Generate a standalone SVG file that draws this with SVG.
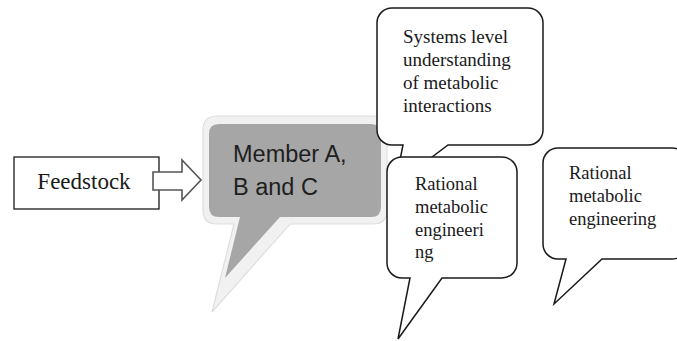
<svg xmlns="http://www.w3.org/2000/svg" width="677" height="341" viewBox="0 0 677 341">
<style>
.serif{font-family:"Liberation Serif","Times New Roman",serif;fill:#1a1a1a}
.sans{font-family:"Liberation Sans",Arial,sans-serif;fill:#1e1e1e}
.callout{fill:#ffffff;stroke:#1a1a1a;stroke-width:1.5;stroke-linejoin:miter}
</style>
<rect width="677" height="341" fill="#ffffff"/>
<g id="feedstock">
<rect x="14" y="157" width="145" height="52" fill="#ffffff" stroke="#1a1a1a" stroke-width="1.3"/>
<text class="serif" x="84" y="189" font-size="23" text-anchor="middle">Feedstock</text>
</g>
<g id="connectors">
<path d="M153,172 H182 V160 L201,180 L182,200 V190 H153 Z" fill="#ffffff" stroke="#555555" stroke-width="1.6" stroke-linejoin="miter"/>
</g>
<g id="member">
<path d="M217,116 H373 Q387,116 387,130 V210 Q387,224 373,224 H290 L212,312 L234,224 H217 Q203,224 203,210 V130 Q203,116 217,116 Z" fill="#f1f1f1" stroke="#dedede" stroke-width="1.2"/>
<path d="M219,124 H371 Q381,124 381,134 V207 Q381,217 371,217 H280 L225,278 L240,217 H219 Q209,217 209,207 V134 Q209,124 219,124 Z" fill="#a6a6a6"/>
<text class="sans" font-size="23.5"><tspan x="233" y="162">Member A,</tspan><tspan x="233" y="195">B and C</tspan></text>
</g>
<g id="systems">
<path class="callout" d="M392,8 H528 A15,15 0 0 1 543,23 V130 A15,15 0 0 1 528,145 H448 L395,185 L403,145 H392 A15,15 0 0 1 377,130 V23 A15,15 0 0 1 392,8 Z"/>
<text class="serif" font-size="19"><tspan x="403" y="43">Systems level</tspan><tspan x="403" y="66">understanding</tspan><tspan x="403" y="89">of metabolic</tspan><tspan x="403" y="112">interactions</tspan></text>
</g>
<g id="rational1">
<path class="callout" d="M402,157 H502 A15,15 0 0 1 517,172 V263 A15,15 0 0 1 502,278 H442 L398,339 L410,278 H402 A15,15 0 0 1 387,263 V172 A15,15 0 0 1 402,157 Z"/>
<text class="serif" font-size="18.5"><tspan x="415" y="190">Rational</tspan><tspan x="415" y="213">metabolic</tspan><tspan x="415" y="236">engineeri</tspan><tspan x="415" y="258">ng</tspan></text>
</g>
<g id="rational2">
<path class="callout" d="M558,148 H672 A15,15 0 0 1 687,163 V244 A15,15 0 0 1 672,259 H602 L554,304 L566,259 H558 A15,15 0 0 1 543,244 V163 A15,15 0 0 1 558,148 Z"/>
<text class="serif" font-size="18.5"><tspan x="569" y="179">Rational</tspan><tspan x="569" y="202">metabolic</tspan><tspan x="569" y="225">engineering</tspan></text>
</g>
</svg>
